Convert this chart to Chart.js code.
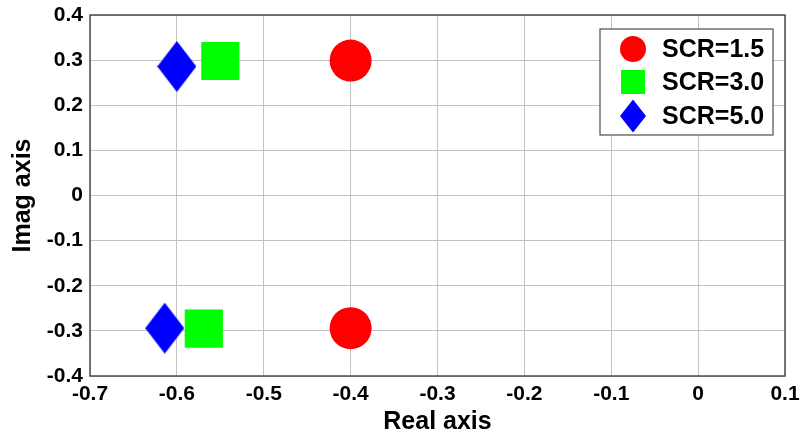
<!DOCTYPE html>
<html>
<head>
<meta charset="utf-8">
<script src="https://cdn.jsdelivr.net/npm/chart.js@4.4.1/dist/chart.umd.min.js"></script>
<style>
  html, body { margin: 0; padding: 0; background: #ffffff; }
  #wrap { width: 800px; height: 434px; }
</style>
</head>
<body>
<div id="wrap"><canvas id="c" width="800" height="434"></canvas></div>
<script>
// ---- data ----
const seriesLabels = ['SCR=1.5', 'SCR=3.0', 'SCR=5.0'];
const scr15Real = [-0.4, -0.4];
const scr15Imag = [0.299, -0.294];
const scr30Real = [-0.55, -0.569];
const scr30Imag = [0.298, -0.295];
const scr50Real = [-0.6, -0.614];
const scr50Imag = [0.286, -0.294];
const xTickMin = -0.7, xTickMax = 0.1, tickStep = 0.1;
const yTickMin = -0.4, yTickMax = 0.4;
const xTitle = 'Real axis';
const yTitle = 'Imag axis';

const FONT = "'Liberation Sans', Arial, sans-serif";

function toPoints(xs, ys) { return xs.map((x, i) => ({ x: x, y: ys[i] })); }

function diamondCanvas(w, h, color) {
  const c = document.createElement('canvas');
  c.width = w; c.height = h;
  const g = c.getContext('2d');
  g.fillStyle = color;
  g.beginPath();
  g.moveTo(w / 2, 0); g.lineTo(w, h / 2); g.lineTo(w / 2, h); g.lineTo(0, h / 2);
  g.closePath(); g.fill();
  return c;
}
const bigDiamond = diamondCanvas(39, 51, '#0000ff');

const legendBoxPlugin = {
  id: 'legendBox',
  afterDraw(chart) {
    const ctx = chart.ctx;
    const a = chart.chartArea;
    ctx.save();
    // plot frame
    ctx.strokeStyle = '#4d4d4d';
    ctx.lineWidth = 1.5;
    ctx.strokeRect(a.left, a.top, a.right - a.left, a.bottom - a.top);
    // legend
    const bx = 600, by = 29, bw = 173, bh = 106;
    ctx.fillStyle = '#ffffff';
    ctx.fillRect(bx, by, bw, bh);
    ctx.strokeStyle = '#4d4d4d';
    ctx.lineWidth = 1.2;
    ctx.strokeRect(bx, by, bw, bh);
    const rows = [49, 82, 116];
    const mx = 633;
    chart.data.datasets.forEach((ds, i) => {
      const y = rows[i];
      ctx.fillStyle = ds.backgroundColor;
      if (i === 0) {
        ctx.beginPath(); ctx.arc(mx, y, 13, 0, Math.PI * 2); ctx.fill();
      } else if (i === 1) {
        ctx.fillRect(mx - 12, y - 12, 24, 24);
      } else {
        ctx.beginPath();
        ctx.moveTo(mx, y - 16.5); ctx.lineTo(mx + 13, y); ctx.lineTo(mx, y + 16.5); ctx.lineTo(mx - 13, y);
        ctx.closePath(); ctx.fill();
      }
      ctx.fillStyle = '#000000';
      ctx.font = 'bold 25px ' + FONT;
      ctx.textBaseline = 'middle';
      ctx.textAlign = 'left';
      ctx.fillText(ds.label, 662, y + 1);
    });
    ctx.restore();
  }
};

function fmt(v) {
  const r = Math.round(v * 10) / 10;
  if (Math.abs(r) < 1e-9) return '0';
  return r.toFixed(1);
}

new Chart(document.getElementById('c'), {
  type: 'scatter',
  data: {
    datasets: [
      { label: seriesLabels[0], data: toPoints(scr15Real, scr15Imag), pointStyle: 'circle', pointRadius: 21, pointHoverRadius: 21, backgroundColor: '#ff0000', borderWidth: 0 },
      { label: seriesLabels[1], data: toPoints(scr30Real, scr30Imag), pointStyle: 'rect', pointRadius: 27, pointHoverRadius: 27, backgroundColor: '#00ff00', borderWidth: 0 },
      { label: seriesLabels[2], data: toPoints(scr50Real, scr50Imag), pointStyle: bigDiamond, pointRadius: 25, backgroundColor: '#0000ff', borderWidth: 0 }
    ]
  },
  options: {
    responsive: false,
    devicePixelRatio: 1,
    animation: false,
    events: [],
    layout: { autoPadding: false, padding: { top: 15, right: 15, left: 0, bottom: 0 } },
    plugins: { legend: { display: false }, tooltip: { enabled: false } },
    scales: {
      x: {
        type: 'linear', min: xTickMin, max: xTickMax,
        afterFit(s) { s.height = 58; s.paddingLeft = 0; s.paddingRight = 0; },
        ticks: { stepSize: tickStep, color: '#000', padding: 6, maxRotation: 0, autoSkip: false,
                 font: { family: FONT, size: 21, weight: 'bold' }, callback: fmt },
        grid: { color: '#c2c2c2', lineWidth: 1, drawTicks: false },
        border: { display: false },
        title: { display: true, text: xTitle, color: '#000', padding: { top: 0, bottom: -3 },
                 font: { family: FONT, size: 25, weight: 'bold' } }
      },
      y: {
        type: 'linear', min: yTickMin, max: yTickMax,
        afterFit(s) { s.width = 90; s.paddingTop = 0; s.paddingBottom = 0; },
        ticks: { stepSize: tickStep, color: '#000', padding: 7, autoSkip: false,
                 font: { family: FONT, size: 21, weight: 'bold' }, callback: fmt },
        grid: { color: '#c2c2c2', lineWidth: 1, drawTicks: false },
        border: { display: false },
        title: { display: true, text: yTitle, color: '#000', padding: { top: 8, bottom: 0 },
                 font: { family: FONT, size: 25, weight: 'bold' } }
      }
    }
  },
  plugins: [legendBoxPlugin]
});
</script>
</body>
</html>
